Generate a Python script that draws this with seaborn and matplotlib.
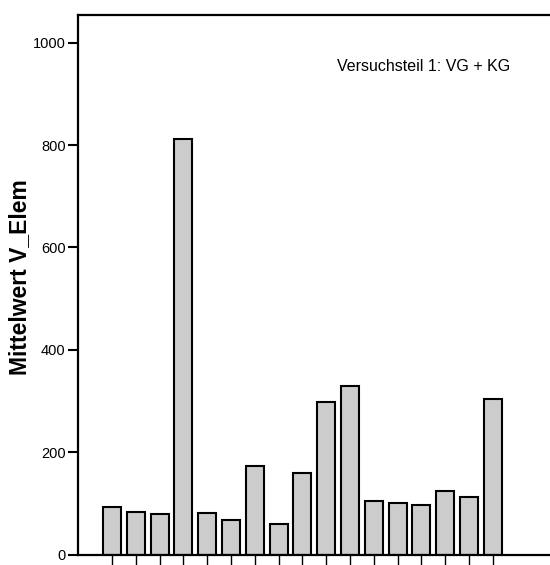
import matplotlib
matplotlib.use("Agg")
import matplotlib.pyplot as plt
import seaborn as sns
import pandas as pd

# Mean V_Elem per condition (Versuchsteil 1: VG + KG)
conditions = [str(i) for i in range(1, 18)]
mean_v_elem = [93, 84, 80, 812, 82, 67, 172, 59, 159, 297, 329, 104, 101, 97, 124, 112, 303]
y_ticks = [0, 200, 400, 600, 800, 1000]

df = pd.DataFrame({"Bedingung": conditions, "Mittelwert": mean_v_elem})

sns.set_theme(style="white")
plt.rcParams["font.family"] = ["Liberation Sans", "DejaVu Sans"]

fig = plt.figure(figsize=(5.5, 5.65), dpi=100)
ax = fig.add_axes([78 / 550, 10.5 / 565, 472 / 550, 539.5 / 565])

sns.barplot(data=df, x="Bedingung", y="Mittelwert", ax=ax,
            color="#cccccc", edgecolor="black", linewidth=1.5,
            width=0.76, saturation=1)

ax.set_xlim(-1.43, -1.43 + 472 / 23.8)
ax.set_ylim(0, 1054)
ax.set_yticks(y_ticks)
ax.set_yticklabels([str(t) for t in y_ticks], fontsize=10.5, color="black")
ax.set_xticklabels([])
ax.set_xlabel("")
ax.set_ylabel("Mittelwert V_Elem", fontsize=16.5, fontweight="bold", color="black")
ax.yaxis.set_label_coords(-0.100, 0.514)

ax.tick_params(axis="y", direction="out", length=7, width=1.5, left=True, pad=2,
               color="black")
ax.tick_params(axis="x", direction="out", length=12, width=1.0, bottom=True,
               color="black")

for side in ["left", "bottom", "top"]:
    ax.spines[side].set_visible(True)
    ax.spines[side].set_linewidth(1.6)
    ax.spines[side].set_color("black")
ax.spines["right"].set_visible(False)

ax.text(0.548, 0.905, "Versuchsteil 1: VG + KG", transform=ax.transAxes,
        fontsize=11.5, ha="left", va="center", color="black")

fig.savefig("out.png", dpi=100)
